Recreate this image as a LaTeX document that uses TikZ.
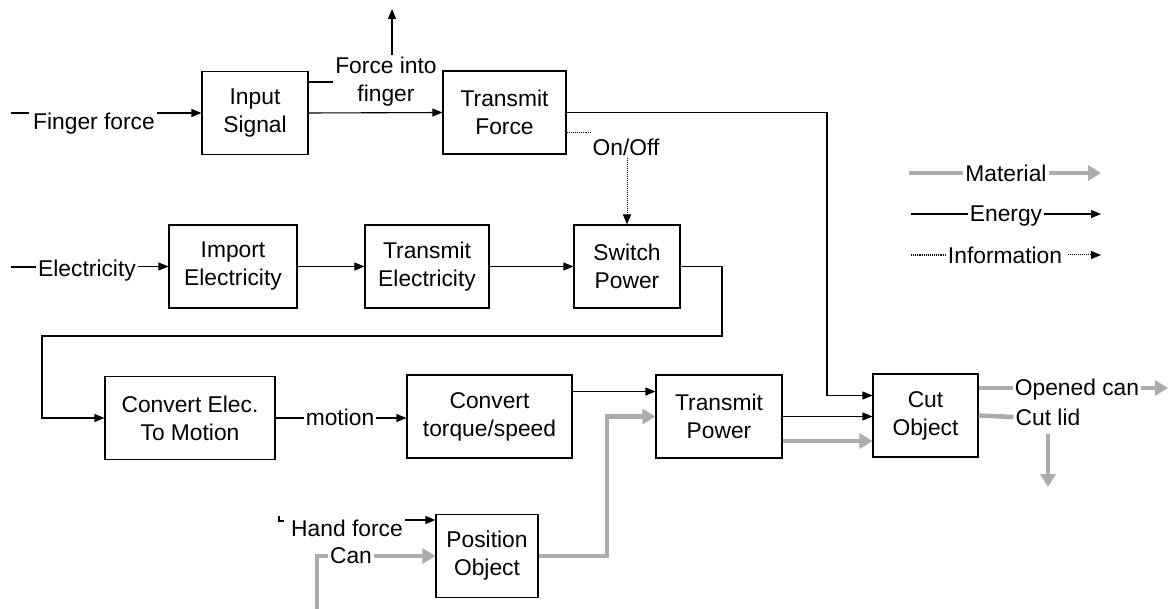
\documentclass[tikz,border=0pt]{standalone}
\usepackage{fontspec}
\setmainfont{Liberation Sans}
\usetikzlibrary{arrows.meta}
\definecolor{matgray}{RGB}{172,172,172}

\begin{document}
\begin{tikzpicture}[x = 1pt, y = -1pt,
		every node/.style = {font = \fontsize{22.8}{28}\selectfont, inner sep = 2pt},
		box/.style = {draw, line width = 1.1pt, inner sep = 0pt, align = center, minimum height = 83pt},
		wire/.style = {line width = 1.1pt},
		energy/.style = {line width = 1.1pt, -{Triangle[length = 10pt, width = 8pt]}},
		info/.style = {line width = 1pt, densely dotted, -{Triangle[length = 10pt, width = 8pt]}},
		matline/.style = {line width = 4.5pt, matgray},
		material/.style = {matline, -{Triangle[length = 13pt, width = 15pt]}}]
		\useasboundingbox (0,0) rectangle (1169,609);
		% function blocks
		\node [box, minimum width = 106pt] (insig) at (255,113) {Input\\Signal};
		\node [box, minimum width = 123pt] (trforce) at (504.5,112.5) {Transmit\\Force};
		\node [box, minimum width = 128pt] (impelec) at (233,266.5) {Import\\Electricity};
		\node [box, minimum width = 124pt] (trelec) at (427,266.5) {Transmit\\Electricity};
		\node [box, minimum width = 106pt] (swpow) at (627,266.5) {Switch\\Power};
		\node [box, minimum width = 170pt] (convmot) at (190,418) {Convert Elec.\\To Motion};
		\node [box, minimum width = 165pt] (convtq) at (489.5,416.5) {Convert\\torque/speed};
		\node [box, minimum width = 126pt] (trpow) at (719,416.5) {Transmit\\Power};
		\node [box, minimum width = 105pt] (cutobj) at (925.5,415.5) {Cut\\Object};
		\node [box, minimum width = 102pt] (posobj) at (487,556) {Position\\Object};
		% flow labels
		\node (fingerf) at (94,124) {Finger force};
		\node [align = center] (forcefing) at (386,82) {Force into\\finger};
		\node (onoff) at (626,147) {On/Off};
		\node (elec) at (87,271) {Electricity};
		\node (motion) at (340,417) {motion};
		\node (handf) at (347,528) {Hand force};
		\node (can) at (351,556) {Can};
		\node (opened) at (1077,390) {Opened can};
		\node (cutlid) at (1048,417) {Cut lid};
		\node (legmat) at (1006,173) {Material};
		\node (legen) at (1006,216) {Energy};
		\node (leginf) at (1005,255) {Information};
		% free ends
		\coordinate (fingerstub) at (11,113);
		\coordinate (fingerup) at (392,9);
		\coordinate (elecstub) at (11,267);
		\coordinate (forcedrop) at (827,0);
		\coordinate (cutin) at ([yshift = 20pt]cutobj.west);
		\coordinate (loopright) at (722,336);
		\coordinate (loopleft) at (42,336);
		\coordinate (posup) at (607,0);
		\coordinate (handstub) at (279,516);
		\coordinate (canin) at (317,609);
		\coordinate (openout) at (1168,388);
		\coordinate (lidout) at (1048,487);
		% top row
		\draw [wire] (fingerstub) -- ++(18,0);
		\draw [energy] (fingerf.east |- insig.west) -- (insig.west);
		\draw [energy] (insig.east) -- (trforce.west);
		\draw [wire] (insig.east |- forcefing.west) -- (forcefing.west);
		\draw [energy] (fingerup |- forcefing.north) -- (fingerup);
		\draw [wire, densely dotted] ([yshift = -20pt]trforce.east) -- ++(24,0);
		\draw [info] (onoff.south -| swpow.north) -- (swpow.north);
		\draw [energy] (trforce.east) -| (forcedrop |- cutin) -- (cutin);
		% electricity row
		\draw [wire] (elecstub) -- (elec.west |- elecstub);
		\draw [energy] (elec.east |- impelec.west) -- (impelec.west);
		\draw [energy] (impelec) -- (trelec);
		\draw [energy] (trelec) -- (swpow);
		\draw [energy] (swpow.east) -| (loopright) -- (loopleft) |- (convmot.west);
		% motion row
		\draw [wire] (convmot.east) -- (motion.west |- convmot.east);
		\draw [energy] (motion.east |- convmot.east) -- (convmot.east -| convtq.west);
		\draw [energy] ([yshift = 25pt]convtq.east) -- ([yshift = 25pt]convtq.east -| trpow.west);
		\draw [energy] (trpow.east) -- (trpow.east -| cutobj.west);
		\draw [material] ([yshift = -24.5pt]trpow.east) -- ([yshift = -24.5pt]trpow.east -| cutobj.west);
		% positioning
		\draw [wire] (handstub) |- ++(5,5);
		\draw [energy] (handf.east |- 0,520) -- (posobj.west |- 0,520);
		\draw [matline] (canin) |- (can.west |- posobj.west);
		\draw [material] (can.east |- posobj.west) -- (posobj.west);
		\draw [material] (posobj.east) -| (posup |- trpow.west) -- (trpow.west);
		% outputs
		\draw [matline] (cutobj.east |- openout) -- (opened.west |- openout);
		\draw [material] (opened.east |- openout) -- (openout);
		\draw [matline] (cutobj.east) -- (cutlid.west);
		\draw [material] ([yshift = -6pt]cutlid.south) -- (lidout);
		% legend
		\draw [matline] (909,173) -- (legmat.west);
		\draw [material] (legmat.east) -- (1101,173);
		\draw [wire] (911,214) -- (legen.west |- 911,214);
		\draw [energy] (legen.east |- 1101,214) -- (1101,214);
		\draw [wire, densely dotted] (911,255) -- (leginf.west);
		\draw [info] ([xshift = 4pt]leginf.east) -- (1101,255);
	\end{tikzpicture}
\end{document}
